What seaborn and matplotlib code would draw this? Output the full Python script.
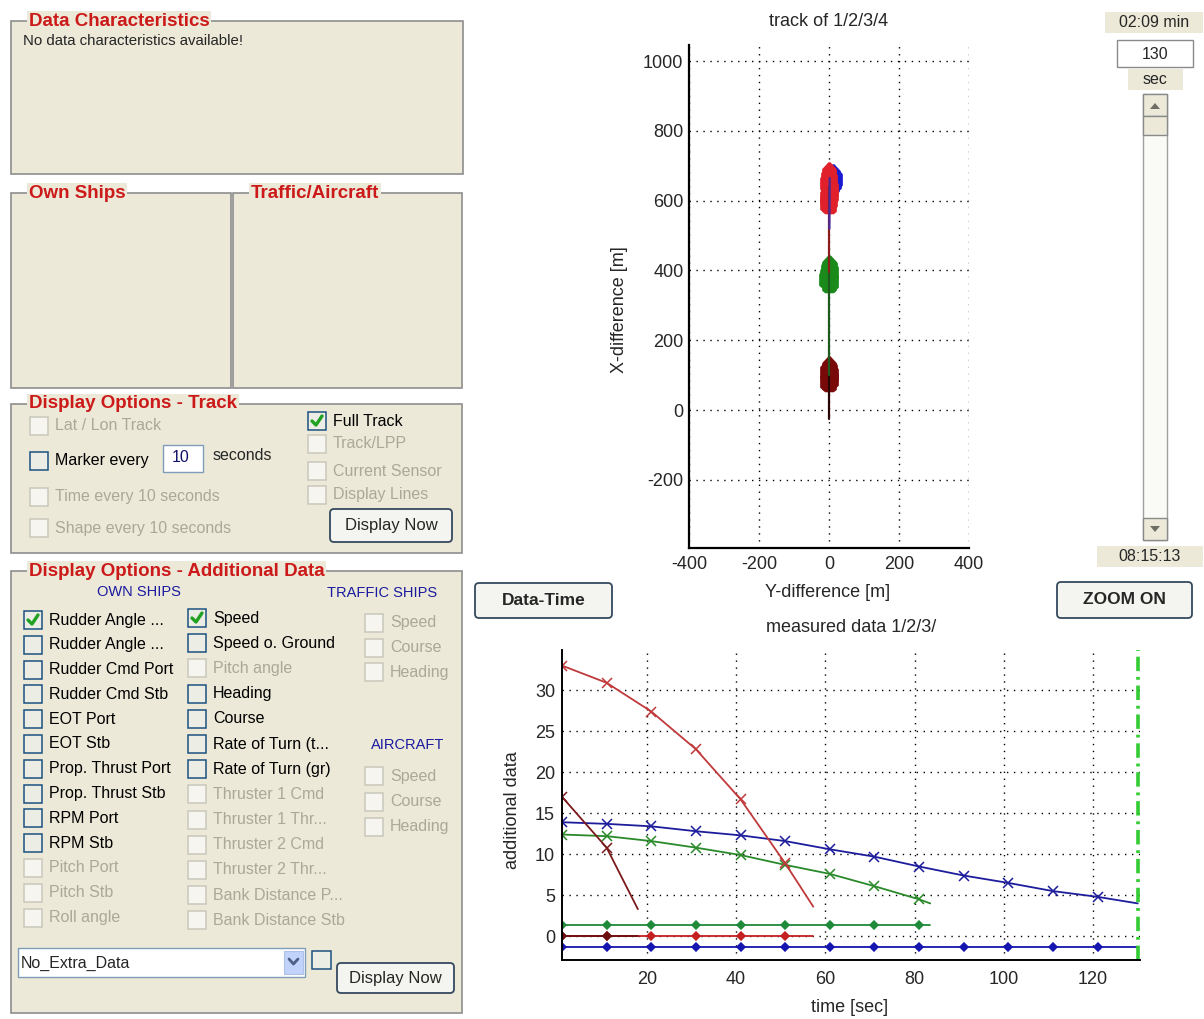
import matplotlib
matplotlib.use("Agg")
import matplotlib.pyplot as plt
import seaborn as sns
from matplotlib.patches import Rectangle, FancyBboxPatch, Polygon
from matplotlib.path import Path
from matplotlib.ticker import MultipleLocator

# ---------------- values ----------------
# measured data (bottom chart), x = time [sec]
red_t = [1, 11, 21, 31, 41, 51, 57.3]
red_v = [33.0, 30.9, 27.4, 22.8, 16.7, 8.9, 3.6]
brown_t = [1, 11, 18.0]
brown_v = [17.0, 10.8, 3.3]
blue_t = [1, 11, 21, 31, 41, 51, 61, 71, 81, 91, 101, 111, 121, 130]
blue_v = [13.9, 13.7, 13.4, 12.8, 12.3, 11.6, 10.6, 9.7, 8.5, 7.4, 6.5, 5.5, 4.8, 4.0]
green_t = [1, 11, 21, 31, 41, 51, 61, 71, 81, 83.5]
green_v = [12.4, 12.2, 11.6, 10.8, 9.9, 8.7, 7.6, 6.1, 4.5, 4.0]

# flat traces with dot markers
blue_flat_v = [-1.35, -1.35, -1.35, -1.35, -1.35, -1.35, -1.35, -1.35, -1.35, -1.35, -1.35, -1.35, -1.35, -1.35]
green_flat_v = [1.4, 1.4, 1.4, 1.4, 1.4, 1.4, 1.4, 1.4, 1.4, 1.4]
red_flat_v = [0, 0, 0, 0, 0, 0, 0]
brown_flat_v = [0, 0, 0]
current_time = 130

# track plot: ship positions [m]
brown_ship_x = [0, -7, 6, -4, 7, -6, 3, 0]
brown_ship_y = [82, 89, 96, 102, 108, 114, 120, 125]
green_ship_x = [0, 5, -8, 3, -6, 6, -4, 2, 0]
green_ship_y = [368, 375, 382, 388, 394, 400, 406, 412, 417]
blue_ship_x = [8, 13, 16, 10]
blue_ship_y = [652, 660, 668, 676]
red_ship_x = [0, -6, 4, -7, 5, -4, 6, 0, -5, 4, -2, 0]
red_ship_y = [592, 600, 608, 616, 624, 632, 640, 648, 656, 664, 672, 682]
# track lines
brown_trk_x, brown_trk_y = [0, 0], [-25, 100]
green_trk_x, green_trk_y = [0, 0], [100, 395]
red_trk_x, red_trk_y = [0, 0], [395, 640]
blue_trk_x, blue_trk_y = [1, 2], [520, 665]

track_xticks = [-400, -200, 0, 200, 400]
track_yticks = [-200, 0, 200, 400, 600, 800, 1000]
meas_xticks = [20, 40, 60, 80, 100, 120]
meas_yticks = [0, 5, 10, 15, 20, 25, 30]

# GUI texts
col1 = [("Rudder Angle ...", 1, 1), ("Rudder Angle ...", 0, 1), ("Rudder Cmd Port", 0, 1),
        ("Rudder Cmd Stb", 0, 1), ("EOT Port", 0, 1), ("EOT Stb", 0, 1),
        ("Prop. Thrust Port", 0, 1), ("Prop. Thrust Stb", 0, 1), ("RPM Port", 0, 1),
        ("RPM Stb", 0, 1), ("Pitch Port", 0, 0), ("Pitch Stb", 0, 0), ("Roll angle", 0, 0)]
col2 = [("Speed", 1, 1), ("Speed o. Ground", 0, 1), ("Pitch angle", 0, 0), ("Heading", 0, 1),
        ("Course", 0, 1), ("Rate of Turn (t...", 0, 1), ("Rate of Turn (gr)", 0, 1),
        ("Thruster 1 Cmd", 0, 0), ("Thruster 1 Thr...", 0, 0), ("Thruster 2 Cmd", 0, 0),
        ("Thruster 2 Thr...", 0, 0), ("Bank Distance P...", 0, 0), ("Bank Distance Stb", 0, 0)]
traffic = ["Speed", "Course", "Heading"]
aircraft = ["Speed", "Course", "Heading"]

# ---------------- figure ----------------
sns.set_style("white")
plt.rcParams['font.family'] = ['Liberation Sans', 'DejaVu Sans']
plt.rcParams['axes.unicode_minus'] = False

W, H = 1204, 1019
FACE = '#ECE9D8'
RED = '#cc1a1a'
fig = plt.figure(figsize=(W / 100, H / 100), dpi=100)
bg = fig.add_axes([0, 0, 1, 1])
bg.set_xlim(0, W)
bg.set_ylim(H, 0)
bg.axis('off')


def ax_rect(l, t, r, b):
    return [l / W, 1 - b / H, (r - l) / W, (b - t) / H]


def group(x0, y0, x1, y1, title):
    bg.add_patch(Rectangle((x0, y0), x1 - x0, y1 - y0, fc=FACE, ec='#8e8e8e', lw=1.2))
    bg.text(x0 + 18, y0, title, color=RED, fontsize=13.5, fontweight='bold',
            va='center', ha='left', bbox=dict(fc=FACE, ec='none', pad=1.2))


def checkbox(x, yc, label, state=0, on=1):
    s = 18
    bg.add_patch(Rectangle((x, yc - s / 2), s, s, fc='#eceee6' if on else '#f6f5f0',
                           ec='#1c5180' if on else '#cac8bb', lw=1.1))
    if state:
        bg.plot([x + 4, x + 8, x + 14], [yc, yc + 4, yc - 5], color='#21a121', lw=2.4)
    bg.text(x + 25, yc, label, fontsize=11.5, color='black' if on else '#aca899',
            va='center', ha='left')


def button(x0, y0, x1, y1, label, size=12, bold=False):
    bg.add_patch(FancyBboxPatch((x0, y0), x1 - x0, y1 - y0, boxstyle='round,pad=0,rounding_size=4',
                                fc='#f4f4f0', ec='#35495e', lw=1.3))
    bg.text((x0 + x1) / 2, (y0 + y1) / 2, label, fontsize=size,
            fontweight='bold' if bold else 'normal', ha='center', va='center')


def beige_label(x0, y0, x1, y1, label):
    bg.add_patch(Rectangle((x0, y0), x1 - x0, y1 - y0, fc=FACE, ec='none'))
    bg.text((x0 + x1) / 2, (y0 + y1) / 2, label, fontsize=11.5, ha='center', va='center')


# left panels
group(11, 21, 463, 174, "Data Characteristics")
bg.text(23, 41, "No data characteristics available!", fontsize=10.8, va='center')
group(11, 193, 231, 388, "Own Ships")
group(233, 193, 462, 388, "Traffic/Aircraft")

group(11, 404, 462, 553, "Display Options - Track")
checkbox(30, 426, "Lat / Lon Track", 0, 0)
checkbox(30, 461, "Marker every", 0, 1)
bg.add_patch(Rectangle((163, 445), 40, 27, fc='white', ec='#7f9db9', lw=1))
bg.text(181, 458, "10", fontsize=11.5, color='#10106a', ha='center', va='center')
bg.text(213, 455, "seconds", fontsize=11.5, va='center')
checkbox(30, 497, "Time every 10 seconds", 0, 0)
checkbox(30, 528, "Shape every 10 seconds", 0, 0)
checkbox(308, 421, "Full Track", 1, 1)
checkbox(308, 444, "Track/LPP", 0, 0)
checkbox(308, 471, "Current Sensor", 0, 0)
checkbox(308, 495, "Display Lines", 0, 0)
button(330, 509, 452, 542, "Display Now")

group(11, 571, 462, 1013, "Display Options - Additional Data")
bg.text(139, 592, "OWN SHIPS", fontsize=10.5, color='#1a1aa0', ha='center', va='center')
bg.text(382, 593, "TRAFFIC SHIPS", fontsize=10.5, color='#1a1aa0', ha='center', va='center')
bg.text(408, 745, "AIRCRAFT", fontsize=10.5, color='#1a1aa0', ha='center', va='center')
for i, (lab, st, on) in enumerate(col1):
    checkbox(24, 620 + i * 24.8, lab, st, on)
for i, (lab, st, on) in enumerate(col2):
    checkbox(188, 618 + i * 25.2, lab, st, on)
for i, lab in enumerate(traffic):
    checkbox(365, 623 + i * 24.5, lab, 0, 0)
for i, lab in enumerate(aircraft):
    checkbox(365, 776 + i * 25.5, lab, 0, 0)
bg.add_patch(Rectangle((18, 948), 287, 29, fc='white', ec='#7f9db9', lw=1))
bg.text(21, 963, "No_Extra_Data", fontsize=11.5, va='center')
bg.add_patch(Rectangle((284, 951), 19, 23, fc='#c1d3fb', ec='#b0c0e8', lw=0.8))
bg.plot([289, 293.5, 298], [959, 964, 959], color='#4d6185', lw=2)
bg.add_patch(Rectangle((312, 951), 19, 18, fc='#eceee6', ec='#1c5180', lw=1.1))
button(337, 963, 454, 993, "Display Now")

# buttons between/under plots
button(475, 583, 612, 618, "Data-Time", size=12.5, bold=True)
button(1057, 582, 1192, 618, "ZOOM ON", size=12.5, bold=True)

# time slider on the right
beige_label(1105, 12, 1203, 33, "02:09 min")
bg.add_patch(Rectangle((1117, 40), 76, 27, fc='white', ec='#8a8a8a', lw=1))
bg.text(1155, 54, str(current_time), fontsize=11.5, ha='center', va='center')
beige_label(1128, 69, 1183, 90, "sec")
bg.add_patch(Rectangle((1143, 94), 24, 446, fc='#fafaf7', ec='#a0a0a0', lw=1))
for y0, y1 in [(94, 116), (116, 135), (518, 540)]:
    bg.add_patch(Rectangle((1143, y0), 24, y1 - y0, fc=FACE, ec='#8a8a8a', lw=1))
bg.add_patch(Polygon([[1150, 109], [1160, 109], [1155, 103]], fc='#6e6e64', ec='none'))
bg.add_patch(Polygon([[1150, 526], [1160, 526], [1155, 532]], fc='#6e6e64', ec='none'))
beige_label(1097, 546, 1203, 567, "08:15:13")

# ---------------- track plot ----------------
ax_t = fig.add_axes(ax_rect(689, 45, 969, 548))
ship = Path([(0, 1), (0.65, 0.3), (0.65, -0.8), (0.4, -1), (-0.4, -1),
             (-0.65, -0.8), (-0.65, 0.3), (0, 1)])

for tx, ty, col in [(brown_trk_x, brown_trk_y, '#2a0505'), (green_trk_x, green_trk_y, '#1e5a1e'),
                    (red_trk_x, red_trk_y, '#8a1c1c'), (blue_trk_x, blue_trk_y, '#4a2a9a')]:
    sns.lineplot(x=tx, y=ty, sort=False, estimator=None, color=col, lw=1.6, ax=ax_t)

for sx, sy, col in [(brown_ship_x, brown_ship_y, '#7a0a0a'), (green_ship_x, green_ship_y, '#1a8a1a'),
                    (blue_ship_x, blue_ship_y, '#1a1ad0'), (red_ship_x, red_ship_y, '#e0202a')]:
    sns.scatterplot(x=sx, y=sy, marker=ship, s=200, facecolor=col, edgecolor=col,
                    linewidth=1.4, ax=ax_t)

ax_t.set_xlim(-400, 400)
ax_t.set_ylim(-395, 1046)
ax_t.set_xticks(track_xticks)
ax_t.set_yticks(track_yticks)
ax_t.yaxis.set_minor_locator(MultipleLocator(25))
ax_t.grid(True, which='major', color='black', linestyle=(0, (1, 4)), lw=1)
ax_t.tick_params(direction='in', labelsize=13, length=5, width=1.2)
ax_t.tick_params(axis='x', pad=6)
ax_t.tick_params(axis='y', pad=4)
ax_t.tick_params(axis='y', which='minor', direction='in', length=3, width=1)
for side in ['top', 'right']:
    ax_t.spines[side].set_visible(False)
for side in ['left', 'bottom']:
    ax_t.spines[side].set_linewidth(1.6)
    ax_t.spines[side].set_color('black')
ax_t.set_title("track of 1/2/3/4", fontsize=13, y=1.046, va='center', pad=0)
ax_t.set_xlabel("Y-difference [m]", fontsize=13, va='center')
ax_t.xaxis.set_label_coords(0.496, -0.0875)
ax_t.set_ylabel("X-difference [m]", fontsize=13, va='center')
ax_t.yaxis.set_label_coords(-0.25, 0.473)

# ---------------- measured data plot ----------------
ax_m = fig.add_axes(ax_rect(562, 650, 1140, 960))


def trace(t, v, col, mk, ms, ax):
    sns.lineplot(x=t, y=v, sort=False, estimator=None, color=col, lw=1.3, marker=mk,
                 markersize=ms, markeredgecolor=col, markerfacecolor=col, markeredgewidth=1.1,
                 markevery=list(range(len(t) - 1)), ax=ax)


trace(blue_t, blue_flat_v, '#1515b0', 'D', 4, ax_m)
trace(green_t, green_flat_v, '#1f8a3a', 'D', 4, ax_m)
trace(red_t, red_flat_v, '#c42020', 'D', 4, ax_m)
trace(brown_t, brown_flat_v, '#6b1010', 'D', 4, ax_m)
trace(blue_t, blue_v, '#1c1c9c', 'x', 7, ax_m)
trace(green_t, green_v, '#2a8a2a', 'x', 7, ax_m)
trace(red_t, red_v, '#c0393b', 'x', 7, ax_m)
trace(brown_t, brown_v, '#7a1a1a', 'x', 7, ax_m)
ax_m.axvline(current_time, color='#33cc33', lw=2.6, linestyle=(0, (4, 1.6, 0.8, 1.6)))

ax_m.set_xlim(1, 130.5)
ax_m.set_ylim(-2.9, 34.9)
ax_m.set_xticks(meas_xticks)
ax_m.set_yticks(meas_yticks)
ax_m.grid(True, color='black', linestyle=(0, (1, 4)), lw=1)
ax_m.tick_params(direction='in', labelsize=13, length=5, width=1.2)
ax_m.tick_params(axis='x', pad=8)
ax_m.tick_params(axis='y', pad=5)
for side in ['top', 'right']:
    ax_m.spines[side].set_visible(False)
for side in ['left', 'bottom']:
    ax_m.spines[side].set_linewidth(1.4)
    ax_m.spines[side].set_color('black')
ax_m.set_title("measured data 1/2/3/", fontsize=13, y=1.074, va='center', pad=0)
ax_m.set_xlabel("time [sec]", fontsize=13, va='center')
ax_m.xaxis.set_label_coords(0.498, -0.152)
ax_m.set_ylabel("additional data", fontsize=13, va='center')
ax_m.yaxis.set_label_coords(-0.085, 0.484)

fig.savefig("out.png", dpi=100)
